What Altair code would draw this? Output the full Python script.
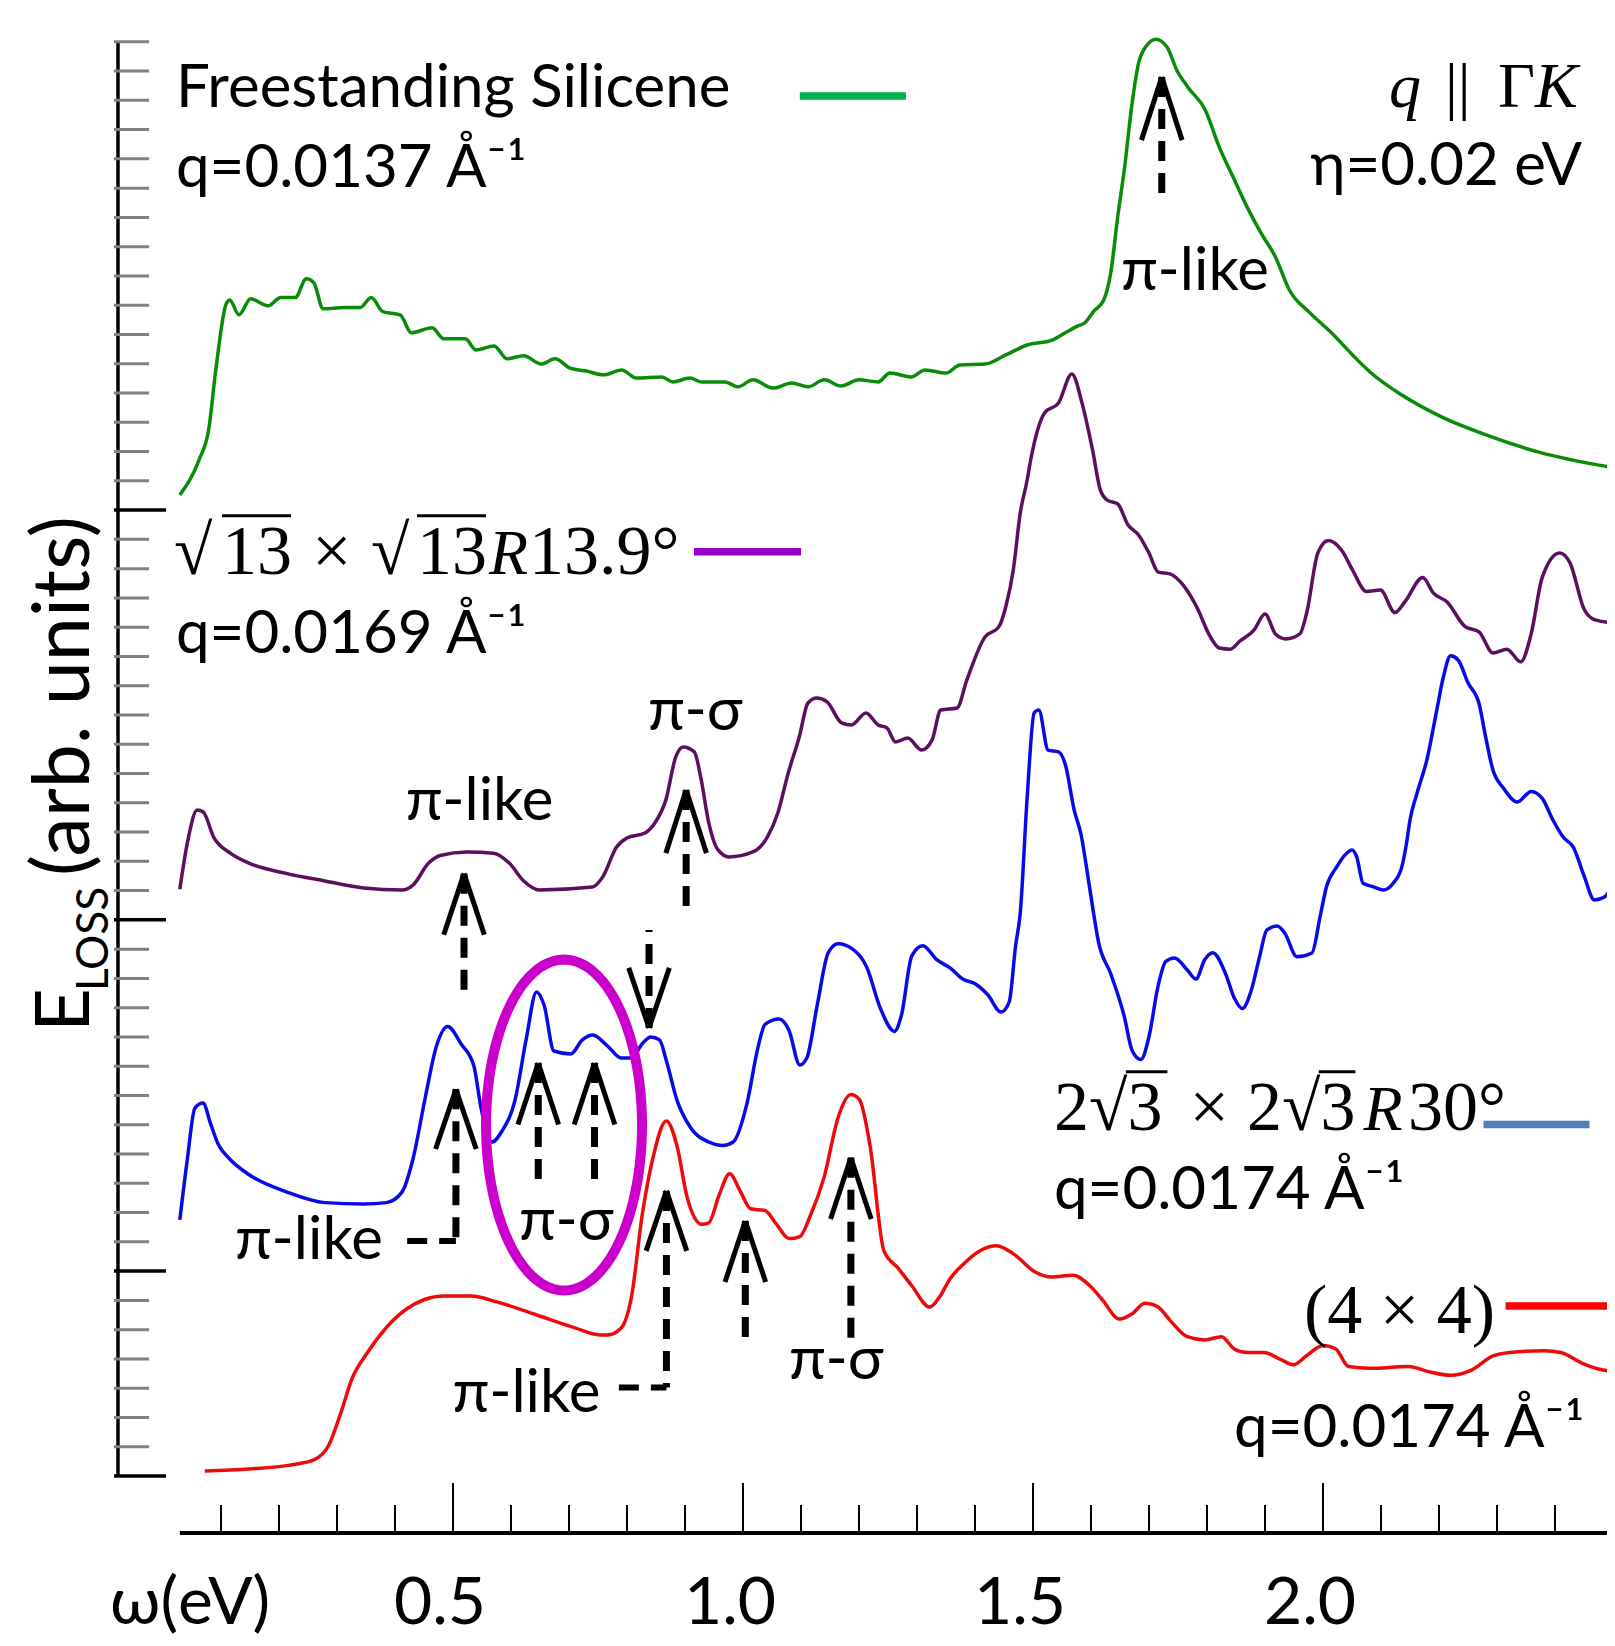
import math
import altair as alt
import numpy as np
import pandas as pd

# ---------------- data (omega in eV, E_loss in arb. units) ----------------
green_w = [0.029, 0.062, 0.079, 0.091, 0.109, 0.115, 0.131, 0.151, 0.181, 0.203,
           0.228, 0.247, 0.260, 0.276, 0.312, 0.340, 0.359, 0.379, 0.409, 0.428,
           0.464, 0.484, 0.521, 0.540, 0.571, 0.593, 0.622, 0.652, 0.676, 0.702,
           0.730, 0.760, 0.791, 0.816, 0.860, 0.879, 0.909, 0.928, 0.969, 0.991,
           1.017, 1.052, 1.084, 1.112, 1.140, 1.169, 1.200, 1.233, 1.253, 1.290,
           1.314, 1.350, 1.374, 1.417, 1.453, 1.490, 1.533, 1.555, 1.574, 1.591,
           1.605, 1.622, 1.634, 1.646, 1.658, 1.670, 1.682, 1.694, 1.712, 1.731,
           1.748, 1.767, 1.797, 1.821, 1.845, 1.869, 1.893, 1.918, 1.942, 1.978,
           2.015, 2.051, 2.081, 2.136, 2.208, 2.281, 2.372, 2.503]
green_E = [33.52, 34.71, 35.78, 37.79, 40.05, 40.18, 39.67, 40.22, 39.98, 40.26,
           40.26, 40.90, 40.77, 39.88, 39.92, 39.92, 40.26, 39.78, 39.67, 39.06,
           39.23, 38.85, 38.85, 38.47, 38.61, 38.17, 38.27, 37.99, 38.17, 37.85,
           37.75, 37.62, 37.79, 37.51, 37.55, 37.38, 37.51, 37.38, 37.38, 37.21,
           37.45, 37.17, 37.34, 37.21, 37.45, 37.24, 37.45, 37.38, 37.68, 37.55,
           37.79, 37.68, 37.96, 37.99, 38.30, 38.64, 38.81, 39.05, 39.26, 39.43,
           39.80, 40.18, 41.10, 43.01, 44.72, 46.77, 48.27, 48.82, 49.09, 48.82,
           48.03, 47.45, 46.67, 45.41, 44.38, 43.36, 42.47, 41.65, 40.52, 39.73,
           39.05, 38.30, 37.72, 36.93, 36.15, 35.57, 34.98, 34.44]

purple_w = [0.029, 0.042, 0.059, 0.069, 0.088, 0.116, 0.148, 0.214, 0.279, 0.346,
            0.412, 0.431, 0.458, 0.478, 0.524, 0.570, 0.597, 0.622, 0.649, 0.740,
            0.758, 0.782, 0.800, 0.831, 0.848, 0.867, 0.884, 0.897, 0.916, 0.928,
            0.940, 0.957, 0.976, 1.017, 1.042, 1.060, 1.078, 1.097, 1.112, 1.127,
            1.145, 1.170, 1.187, 1.212, 1.233, 1.248, 1.263, 1.284, 1.308, 1.326,
            1.341, 1.369, 1.386, 1.417, 1.441, 1.453, 1.466, 1.478, 1.490, 1.496,
            1.520, 1.544, 1.567, 1.585, 1.603, 1.616, 1.628, 1.646, 1.664, 1.682,
            1.700, 1.716, 1.736, 1.760, 1.784, 1.803, 1.821, 1.840, 1.857, 1.881,
            1.900, 1.918, 1.936, 1.960, 1.972, 1.991, 2.009, 2.033, 2.051, 2.075,
            2.099, 2.124, 2.141, 2.172, 2.190, 2.214, 2.245, 2.269, 2.293, 2.317,
            2.341, 2.359, 2.378, 2.408, 2.426, 2.450, 2.468, 2.503]
purple_E = [20.05, 21.63, 22.75, 22.69, 21.80, 21.28, 20.94, 20.58, 20.33, 20.09,
            20.02, 20.19, 20.94, 21.20, 21.32, 21.28, 20.94, 20.33, 20.02, 20.12,
            20.46, 21.49, 21.80, 21.97, 22.31, 23.10, 24.57, 24.91, 24.74, 23.78,
            22.41, 21.39, 21.15, 21.32, 21.83, 22.65, 24.02, 25.25, 26.41, 26.58,
            26.45, 25.73, 25.66, 26.07, 25.66, 25.56, 25.08, 25.21, 24.80, 25.15,
            26.17, 26.24, 27.20, 28.66, 29.01, 29.69, 30.95, 32.90, 34.03, 34.71,
            36.32, 36.66, 37.65, 36.62, 35.02, 33.69, 33.34, 33.21, 32.49, 32.15,
            31.53, 30.88, 30.82, 30.41, 29.62, 28.77, 28.29, 28.25, 28.53, 28.90,
            29.45, 28.77, 28.60, 28.77, 29.50, 31.53, 31.96, 31.60, 30.95, 30.22,
            30.27, 29.50, 29.86, 30.70, 30.17, 29.86, 29.02, 28.84, 28.12, 28.25,
            27.82, 28.78, 30.70, 31.53, 31.19, 29.62, 29.26, 29.14]

blue_w = [0.029, 0.042, 0.055, 0.069, 0.082, 0.095, 0.115, 0.148, 0.214, 0.279,
          0.346, 0.385, 0.412, 0.431, 0.452, 0.471, 0.491, 0.514, 0.536, 0.548,
          0.567, 0.584, 0.607, 0.626, 0.644, 0.657, 0.674, 0.703, 0.723, 0.741,
          0.766, 0.790, 0.808, 0.826, 0.841, 0.856, 0.868, 0.886, 0.910, 0.941,
          0.965, 0.983, 1.007, 1.026, 1.038, 1.062, 1.079, 1.098, 1.110, 1.128,
          1.147, 1.164, 1.189, 1.213, 1.237, 1.261, 1.273, 1.291, 1.310, 1.334,
          1.357, 1.379, 1.401, 1.422, 1.445, 1.459, 1.470, 1.478, 1.490, 1.502,
          1.510, 1.526, 1.544, 1.556, 1.571, 1.583, 1.593, 1.603, 1.613, 1.634,
          1.657, 1.671, 1.686, 1.700, 1.715, 1.729, 1.744, 1.766, 1.781, 1.796,
          1.810, 1.832, 1.847, 1.861, 1.876, 1.891, 1.903, 1.921, 1.934, 1.955,
          1.981, 1.995, 2.006, 2.024, 2.038, 2.050, 2.058, 2.069, 2.087, 2.104,
          2.121, 2.136, 2.144, 2.150, 2.162, 2.179, 2.196, 2.208, 2.220, 2.233,
          2.250, 2.269, 2.281, 2.293, 2.311, 2.335, 2.359, 2.378, 2.396, 2.414,
          2.432, 2.450, 2.468, 2.486, 2.503]
blue_E = [8.75, 10.83, 12.57, 12.74, 12.04, 11.34, 10.83, 10.30, 9.70, 9.34,
          9.29, 9.34, 9.70, 10.83, 12.91, 14.66, 15.36, 14.76, 14.01, 12.61,
          11.41, 11.77, 12.85, 14.90, 16.54, 16.09, 14.52, 14.42, 14.90, 15.07,
          14.70, 14.28, 14.28, 14.76, 15.00, 14.90, 14.18, 12.85, 11.89, 11.41,
          11.29, 11.41, 12.74, 14.66, 15.43, 15.61, 15.24, 14.04, 14.28, 16.09,
          17.88, 18.18, 18.00, 17.40, 15.97, 15.19, 15.73, 17.77, 18.12, 17.64,
          17.36, 16.98, 16.81, 16.44, 15.85, 16.20, 18.12, 19.23, 23.20, 26.07,
          26.17, 24.80, 24.74, 24.29, 22.75, 21.90, 20.70, 19.41, 18.24, 17.16,
          15.73, 14.53, 14.23, 15.01, 16.68, 17.58, 17.70, 17.29, 16.98, 17.64,
          17.88, 17.16, 16.33, 15.97, 16.57, 17.77, 18.65, 18.79, 18.55, 17.74,
          17.87, 19.11, 20.13, 20.82, 21.22, 21.39, 21.16, 20.25, 20.13, 20.02,
          20.25, 20.82, 21.62, 22.41, 23.32, 24.46, 26.15, 27.34, 28.02, 27.88,
          27.10, 26.39, 25.19, 24.12, 23.51, 23.03, 23.39, 23.15, 22.43, 21.83,
          21.47, 20.51, 19.68, 19.79, 20.40]

red_w = [0.072, 0.148, 0.221, 0.260, 0.286, 0.306, 0.326, 0.352, 0.385, 0.418,
         0.451, 0.484, 0.531, 0.577, 0.643, 0.709, 0.753, 0.766, 0.790, 0.808,
         0.826, 0.844, 0.868, 0.886, 0.904, 0.929, 0.941, 0.959, 0.977, 0.995,
         1.013, 1.038, 1.056, 1.080, 1.098, 1.116, 1.140, 1.164, 1.186, 1.201,
         1.219, 1.243, 1.267, 1.291, 1.322, 1.340, 1.357, 1.379, 1.408, 1.437,
         1.467, 1.503, 1.532, 1.569, 1.598, 1.620, 1.649, 1.671, 1.693, 1.715,
         1.737, 1.766, 1.796, 1.825, 1.847, 1.869, 1.898, 1.927, 1.949, 1.971,
         2.000, 2.022, 2.044, 2.081, 2.147, 2.183, 2.220, 2.256, 2.293, 2.322,
         2.381, 2.410, 2.446, 2.483, 2.503]
red_E = [0.17, 0.24, 0.38, 0.55, 1.06, 2.12, 3.33, 4.20, 5.07, 5.68,
         6.03, 6.15, 6.15, 5.94, 5.51, 5.07, 4.82, 4.82, 5.06, 6.15,
         8.89, 10.81, 12.13, 11.29, 9.50, 8.60, 8.65, 9.61, 10.33, 9.74,
         9.13, 9.07, 8.65, 8.11, 8.18, 8.89, 10.22, 12.25, 13.03, 12.85,
         11.29, 7.69, 7.11, 6.50, 5.77, 6.15, 6.74, 7.22, 7.69, 7.87,
         7.58, 6.98, 6.80, 6.86, 6.50, 6.01, 5.36, 5.54, 5.90, 5.78,
         5.30, 4.76, 4.65, 4.76, 4.34, 4.22, 4.22, 3.98, 3.80, 4.10,
         4.46, 4.34, 3.74, 3.68, 3.74, 3.56, 3.44, 3.62, 4.10, 4.22,
         4.28, 4.22, 3.86, 3.62, 3.56]

series_names = ["Freestanding", "sqrt13", "2sqrt3", "4x4"]
series_colors = ["#0a8c0a", "#5c0f5e", "#0a0ae6", "#ee0a0a"]

# tick values
x_major = [0.5, 1.0, 1.5, 2.0]
x_major_labels = ["0.5", "1.0", "1.5", "2.0"]
x_minor = [0.1, 0.2, 0.3, 0.4, 0.6, 0.7, 0.8, 0.9, 1.1, 1.2, 1.3, 1.4,
           1.6, 1.7, 1.8, 1.9, 2.1, 2.2, 2.3, 2.4]
y_major = [0, 7, 19, 33]
y_minor = [u for u in range(1, 50) if u not in y_major]

# peak arrows: omega, tip, end of arrow-head legs, end of dashed shaft
arrow_w = [1.722, 0.519, 0.902, 0.838, 0.505, 0.647, 0.744, 0.868, 1.004, 1.186]
arrow_tip = [47.80, 20.58, 23.44, 15.31, 13.21, 14.11, 14.11, 9.74, 8.71, 10.87]
arrow_leg = [45.64, 18.49, 21.28, 17.36, 11.17, 12.01, 12.01, 7.69, 6.63, 8.78]
arrow_end = [43.49, 16.23, 19.17, 18.65, 8.03, 9.74, 9.74, 3.02, 4.46, 4.58]

# ---------------- frame ----------------
W, H = 1599, 1630
xs = alt.Scale(domain=[-0.267241, 2.489655], nice=False, zero=False)
ys = alt.Scale(domain=[-5.5347, 50.154], nice=False, zero=False)
X = alt.X("w:Q", scale=xs, axis=None)
Y = alt.Y("E:Q", scale=ys, axis=None)

# curves
rows = []
for name, ws, es in zip(series_names, [green_w, purple_w, blue_w, red_w],
                        [green_E, purple_E, blue_E, red_E]):
    for w, e in zip(ws, es):
        rows.append({"series": name, "w": w, "E": e})
curves_df = pd.DataFrame(rows)
curves = alt.Chart(curves_df).mark_line(strokeWidth=3.5, strokeJoin="round",
                                        interpolate="monotone").encode(
    x=X, y=Y,
    color=alt.Color("series:N", scale=alt.Scale(domain=series_names, range=series_colors), legend=None),
)

# solid segments: axes, ticks, overlines, legend swatches, arrow heads
seg = []
def add_seg(lst, w, E, w2, E2, col, sw):
    lst.append({"w": w, "E": E, "w2": w2, "E2": E2, "col": col, "sw": sw})

YAX = -0.0776
add_seg(seg, YAX, 0, YAX, 49, "black", 3.5)
for u in y_minor:
    add_seg(seg, -0.0845, u, -0.0241, u, "#808080", 3)
for u in y_major:
    add_seg(seg, -0.0845, u, 0.0052, u, "black", 3.5)
XAX = -1.9474
add_seg(seg, 0.029, XAX, 2.49, XAX, "black", 4)
for t in x_major:
    add_seg(seg, t, -0.2392, t, XAX, "black", 2)
for t in x_minor:
    add_seg(seg, t, -0.9908, t, XAX, "black", 2)
# vinculum lines of the square roots
for a, b, u in [(0.1017, 0.2207, 32.81), (0.4379, 0.5569, 32.81),
                (1.6600, 1.7317, 13.81), (1.9927, 2.0559, 13.81)]:
    add_seg(seg, a, u, b, u, "black", 3)
# legend swatches
for a, b, u, c in [(1.098, 1.281, 47.15, "#00b050"), (0.9155, 1.100, 31.58, "#9900cc"),
                   (2.2767, 2.4595, 12.01, "#4f81bd"), (2.3148, 2.4976, 5.81, "#ff0000")]:
    add_seg(seg, a, u, b, u, c, 7.5)
HW = 0.035
for w, tip, leg in zip(arrow_w, arrow_tip, arrow_leg):
    add_seg(seg, w - HW, leg, w, tip, "black", 5)
    add_seg(seg, w + HW, leg, w, tip, "black", 5)
seg_df = pd.DataFrame(seg)
segments = alt.Chart(seg_df).mark_rule(strokeCap="butt").encode(
    x=X, y=Y, x2="w2:Q", y2="E2:Q",
    color=alt.Color("col:N", scale=None),
    strokeWidth=alt.StrokeWidth("sw:Q", scale=None),
)

# dashed shafts and connectors
dash = []
for w, tip, end in zip(arrow_w, arrow_tip, arrow_end):
    add_seg(dash, w, tip, w, end, "black", 7)
add_seg(dash, 0.421, 8.03, 0.505, 8.03, "black", 6)
add_seg(dash, 0.786, 3.02, 0.868, 3.02, "black", 6)
dash_df = pd.DataFrame(dash)
dashed = alt.Chart(dash_df).mark_rule(strokeDash=[20, 12], strokeCap="butt").encode(
    x=X, y=Y, x2="w2:Q", y2="E2:Q",
    color=alt.Color("col:N", scale=None),
    strokeWidth=alt.StrokeWidth("sw:Q", scale=None),
)

# highlight ellipse
ell_c, ell_r = (0.6914, 11.99), (0.1345, 5.654)
tt = np.linspace(0, 2 * math.pi, 145)
ell_df = pd.DataFrame({"i": np.arange(len(tt)),
                       "w": ell_c[0] + ell_r[0] * np.cos(tt),
                       "E": ell_c[1] + ell_r[1] * np.sin(tt)})
ellipse = alt.Chart(ell_df).mark_line(color="#cc00cc", strokeWidth=10).encode(
    x=X, y=Y, order="i:Q")

# ---------------- texts ----------------
def texts(items, **kw):
    df = pd.DataFrame(items, columns=["t", "w", "E"])
    return alt.Chart(df).mark_text(color="black", baseline="alphabetic", **kw).encode(
        x=X, y=Y, text="t:N")

sans_left = texts([
    ("Freestanding Silicene", 0.0224, 46.77),
    ("q=0.0137 Å⁻¹", 0.0224, 44.05),
    ("q=0.0169 Å⁻¹", 0.0224, 28.13),
    ("π-like", 1.6517, 40.52),
    ("π-like", 0.4184, 22.41),
    ("π-σ", 0.8362, 25.49),
    ("π-like", 0.1241, 7.42),
    ("π-σ", 0.6138, 8.06),
    ("π-like", 0.4993, 2.19),
    ("π-σ", 1.0793, 3.32),
    ("q=0.0174 Å⁻¹", 1.5362, 9.13),
    ("q=0.0174 Å⁻¹", 1.8466, 0.99),
], font="Lato", fontSize=60, align="left")

sans_right = texts([("η=0.02 eV", 2.4466, 44.11)], font="Lato", fontSize=60, align="right")

# "q || ΓK" : q and K italic, bars and Gamma upright
qk_it = texts([("q", 2.1138, 46.78), ("K", 2.3655, 46.78)],
              font="Liberation Serif", fontSize=64, fontStyle="italic", align="left")
qk_up = texts([("||", 2.2103, 46.78), ("Γ", 2.3017, 46.78)],
              font="Liberation Serif", fontSize=64, align="left")

math_up = texts([
    ("√", 0.0190, 30.83), ("13", 0.1017, 30.83), ("×", 0.2569, 30.83),
    ("√", 0.3586, 30.83), ("13", 0.4379, 30.83), ("13.9°", 0.6310, 30.83),
    ("2√3", 1.5362, 11.83), ("×", 1.7700, 11.83), ("2√3", 1.8690, 11.83),
    ("30°", 2.1466, 11.83),
    ("(4 × 4)", 1.9672, 4.89),
], font="Liberation Serif", fontSize=70, align="left")
math_it = texts([("R", 0.5621, 30.83), ("R", 2.0698, 11.83)],
                font="Liberation Serif", fontSize=64, fontStyle="italic", align="left")

tick_labels = texts(list(zip(x_major_labels, x_major, [-5.0564] * 4)),
                    font="Lato", fontSize=66, align="center", dx=-13)
x_title = texts([("ω(eV)", -0.0914, -5.0564)], font="Lato", fontSize=66, align="left")

title_e = texts([("E", -0.1276, 15.17)], font="Lato", fontSize=76, align="left", angle=270)
title_units = texts([("(arb. units)", -0.1276, 20.50)], font="Lato", fontSize=79,
                    align="left", angle=270)
title_sub = texts([("LOSS", -0.0948, 16.57)], font="Lato", fontSize=44, align="left", angle=270)

chart = alt.layer(
    segments, dashed, curves, ellipse,
    sans_left, sans_right, qk_it, qk_up, math_up, math_it,
    tick_labels, x_title, title_e, title_units, title_sub,
).properties(
    width=W, height=H, padding=0,
    autosize=alt.AutoSizeParams(type="none"),
    background="white",
).configure_view(stroke=None)

chart.save("out.html", embed_options={"renderer": "svg", "actions": False})
